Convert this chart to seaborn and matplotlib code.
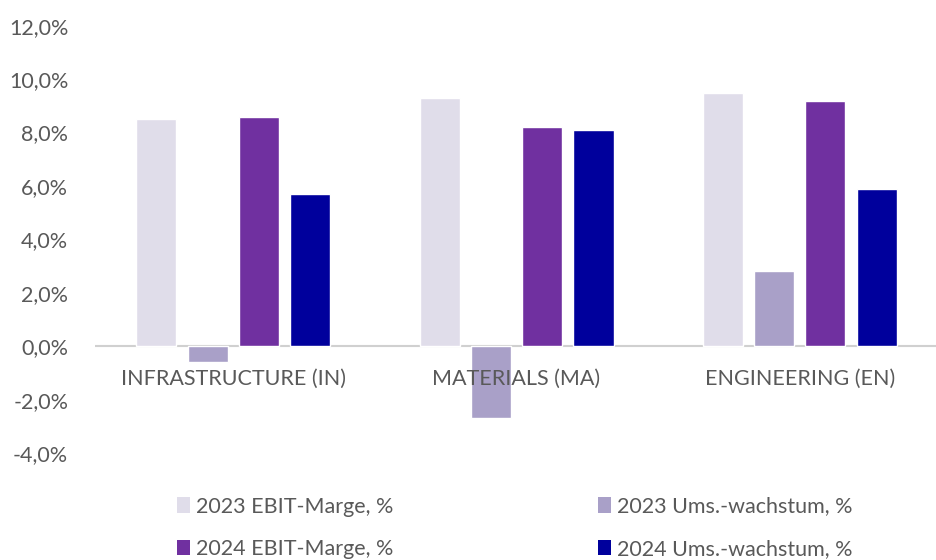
import matplotlib
matplotlib.use("Agg")
import matplotlib.pyplot as plt
import seaborn as sns
import pandas as pd
from matplotlib.ticker import FuncFormatter, MultipleLocator
from matplotlib.patches import Patch

categories = ["INFRASTRUCTURE (IN)", "MATERIALS (MA)", "ENGINEERING (EN)"]
series = ["2023 EBIT-Marge, %", "2023 Ums.-wachstum, %", "2024 EBIT-Marge, %", "2024 Ums.-wachstum, %"]
ebit_2023 = [8.5, 9.3, 9.5]
ums_2023 = [-0.6, -2.7, 2.8]
ebit_2024 = [8.6, 8.2, 9.2]
ums_2024 = [5.7, 8.1, 5.9]
colors = ["#E0DDEA", "#A9A0C8", "#7030A0", "#00009C"]

rows = []
for s, vals in zip(series, [ebit_2023, ums_2023, ebit_2024, ums_2024]):
    for c, v in zip(categories, vals):
        rows.append({"cat": c, "series": s, "value": v})
df = pd.DataFrame(rows)

sns.set_theme(style="white")
plt.rcParams["font.family"] = ["Lato", "DejaVu Sans"]
text_color = "#595959"
fs = 15.5

fig = plt.figure(figsize=(9.37, 5.6), dpi=100)
ax = fig.add_axes([0.101, 0.191, 0.899, 0.763])

sns.barplot(data=df, x="cat", y="value", hue="series", hue_order=series,
            order=categories, palette=colors, width=0.725, gap=0.22,
            ax=ax, legend=False, saturation=1)

ax.set_ylim(-4, 12)
ax.set_xlim(-0.49, 2.485)
ax.yaxis.set_major_locator(MultipleLocator(2))
ax.yaxis.set_major_formatter(FuncFormatter(lambda v, p: f"{v:.1f}%".replace(".", ",")))
ax.set_xlabel("")
ax.set_ylabel("")
for sp in ax.spines.values():
    sp.set_visible(False)
ax.axhline(0, color="#D0D0D0", lw=1.5, zorder=0.5)
ax.tick_params(axis="y", labelsize=fs, labelcolor=text_color, length=0, pad=19)
ax.set_xticks([])
for i, c in enumerate(categories):
    ax.text(i, -0.85, c, ha="center", va="top", fontsize=fs, color=text_color)

handles = [Patch(facecolor=col, edgecolor="none") for col in colors]
order_idx = [0, 2, 1, 3]
fig.legend([handles[i] for i in order_idx], [series[i] for i in order_idx],
           ncol=2, loc="lower left", bbox_to_anchor=(0.168, -0.033),
           frameon=False, fontsize=fs, labelcolor=text_color,
           handlelength=0.6, handleheight=0.7, handletextpad=0.3,
           columnspacing=9.5, labelspacing=1.05)

fig.savefig("out.png", dpi=100)
